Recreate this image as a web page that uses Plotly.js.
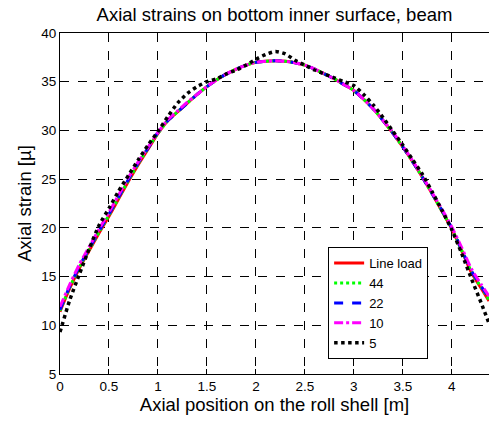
<!DOCTYPE html>
<html>
<head>
<meta charset="utf-8">
<script src="https://cdn.plot.ly/plotly-3.0.1.min.js"></script>
<style>html,body{margin:0;padding:0;background:#fff;}#chart{width:489px;height:421px;}</style>
</head>
<body>
<div id="chart"></div>
<script>
var xPos = [0, 0.1, 0.2, 0.3, 0.4, 0.5, 0.6, 0.7, 0.8, 0.9, 1.0, 1.1, 1.2, 1.3, 1.4, 1.5, 1.6, 1.7, 1.8, 1.9, 2.0, 2.1, 2.2, 2.3, 2.4, 2.5, 2.6, 2.7, 2.8, 2.9, 3.0, 3.1, 3.2, 3.3, 3.4, 3.5, 3.6, 3.7, 3.8, 3.9, 4.0, 4.1, 4.2, 4.3, 4.38];

var lineLoad = [11.4, 13.8, 15.9, 17.7, 19.5, 21.2, 23.0, 24.8, 26.5, 28.1, 29.7, 31.0, 31.9, 32.8, 33.7, 34.5, 35.2, 35.8, 36.3, 36.7, 37.0, 37.1, 37.15, 37.1, 36.95, 36.7, 36.3, 35.8, 35.3, 34.7, 34.1, 33.2, 32.2, 31.0, 29.7, 28.3, 26.8, 25.2, 23.5, 21.7, 19.9, 17.7, 15.4, 13.8, 12.5];
var s44 = [11.5, 13.9, 16.0, 17.8, 19.6, 21.3, 23.1, 24.9, 26.6, 28.2, 29.7, 31.0, 31.9, 32.8, 33.7, 34.5, 35.2, 35.8, 36.3, 36.7, 37.0, 37.1, 37.15, 37.1, 36.95, 36.7, 36.3, 35.8, 35.3, 34.7, 34.1, 33.2, 32.2, 31.0, 29.7, 28.3, 26.8, 25.2, 23.5, 21.7, 19.9, 17.7, 15.5, 13.9, 12.6];
var s22 = [11.6, 14.0, 16.1, 17.9, 19.7, 21.4, 23.2, 25.0, 26.7, 28.2, 29.8, 31.0, 31.9, 32.8, 33.7, 34.5, 35.2, 35.8, 36.3, 36.7, 37.0, 37.1, 37.15, 37.1, 36.95, 36.7, 36.3, 35.8, 35.3, 34.7, 34.1, 33.2, 32.2, 31.0, 29.7, 28.3, 26.8, 25.2, 23.5, 21.8, 20.0, 17.8, 15.6, 14.0, 12.8];
var s10 = [11.9, 14.2, 16.3, 18.1, 19.9, 21.6, 23.4, 25.2, 26.8, 28.3, 29.8, 31.1, 32.0, 32.9, 33.7, 34.5, 35.2, 35.8, 36.3, 36.7, 37.0, 37.1, 37.15, 37.1, 36.95, 36.7, 36.3, 35.8, 35.3, 34.7, 34.1, 33.2, 32.2, 31.0, 29.8, 28.4, 26.9, 25.3, 23.6, 21.9, 20.1, 18.0, 15.8, 14.2, 13.0];
var s5 = [9.3, 12.6, 15.3, 17.9, 20.3, 22.0, 23.8, 25.4, 27.0, 28.5, 29.9, 31.4, 32.8, 33.8, 34.5, 35.0, 35.3, 35.8, 36.2, 36.7, 37.3, 37.8, 38.1, 37.85, 37.2, 36.7, 36.2, 35.8, 35.4, 35.0, 34.6, 33.7, 32.6, 31.3, 29.9, 28.5, 27.0, 25.5, 23.7, 21.8, 19.8, 17.4, 14.8, 12.3, 10.2];

var seriesNames = ['Line load', '44', '22', '10', '5'];
var xTicks = [0, 0.5, 1, 1.5, 2, 2.5, 3, 3.5, 4];
var xTickText = ['0', '0.5', '1', '1.5', '2', '2.5', '3', '3.5', '4'];
var yTicks = [5, 10, 15, 20, 25, 30, 35, 40];

var allY = [lineLoad, s44, s22, s10, s5];
var colors = ['#ff0000', '#00ff00', '#0000ff', '#ff00ff', '#000000'];
var dashes = ['solid', 'dot', 'dash', 'dashdot', 'dot'];
var widths = [3, 3, 3, 3, 3.5];

var traces = allY.map(function (ys, i) {
  return {
    x: xPos, y: ys, name: seriesNames[i], type: 'scatter', mode: 'lines',
    line: {color: colors[i], width: widths[i], dash: dashes[i], shape: 'spline', smoothing: 0.6}
  };
});

var fam = 'Liberation Sans, Arial, sans-serif';

var layout = {
  width: 489, height: 421,
  margin: {l: 60, r: 0, t: 33, b: 47, pad: 0},
  paper_bgcolor: '#fff', plot_bgcolor: '#fff',
  showlegend: true,
  font: {family: fam, size: 13, color: '#000'},
  title: {
    text: 'Axial strains on bottom inner surface, beam',
    font: {family: fam, size: 18.5, color: '#000'},
    xref: 'paper', x: 0.5, xanchor: 'center',
    yref: 'container', y: 0.965, yanchor: 'middle'
  },
  xaxis: {
    range: [0, 4.38], tickvals: xTicks, ticktext: xTickText,
    ticks: 'inside', ticklen: 5, tickcolor: '#000', tickwidth: 1,
    showline: true, linecolor: '#000', linewidth: 1, mirror: 'ticks',
    showgrid: true, gridcolor: '#000', gridwidth: 1, griddash: 'dash',
    zeroline: false,
    tickfont: {family: fam, size: 13.5, color: '#000'},
    title: {text: 'Axial position on the roll shell [m]', font: {family: fam, size: 18.5, color: '#000'}, standoff: 2}
  },
  yaxis: {
    range: [5, 40], tickvals: yTicks,
    ticks: 'inside', ticklen: 5, tickcolor: '#000', tickwidth: 1,
    showline: true, linecolor: '#000', linewidth: 1, mirror: false,
    showgrid: true, gridcolor: '#000', gridwidth: 1, griddash: 'dash',
    zeroline: false,
    tickfont: {family: fam, size: 13.5, color: '#000'},
    title: {text: 'Axial strain [µ]', font: {family: fam, size: 18.5, color: '#000'}, standoff: 4}
  },
  legend: {
    x: 0.625, y: 0.372, xanchor: 'left', yanchor: 'top',
    bgcolor: '#fff', bordercolor: '#000', borderwidth: 1,
    font: {family: fam, size: 13, color: '#000'},
    tracegroupgap: 0, itemwidth: 30
  }
};

Plotly.newPlot('chart', traces, layout, {displayModeBar: false, staticPlot: true});
</script>
</body>
</html>
